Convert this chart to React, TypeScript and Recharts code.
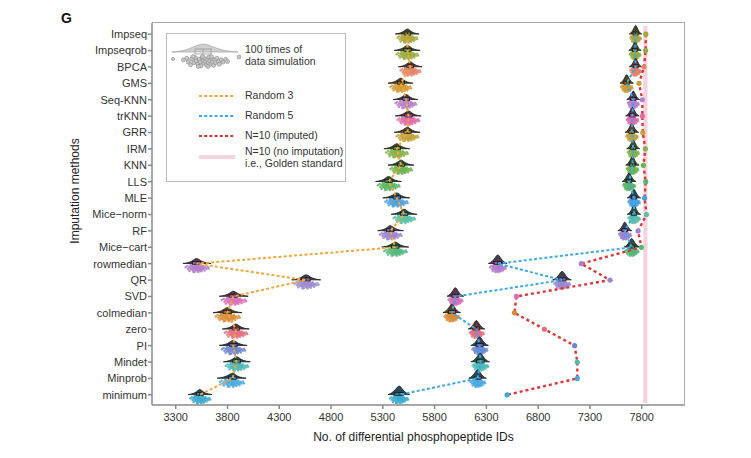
import React from 'react';
import { ComposedChart, Bar, Line, XAxis, YAxis, ReferenceArea, Legend, Label } from 'recharts';

const FONT = '"Liberation Sans", Arial, sans-serif';

// imputation methods, top to bottom
const methods = [
  'Impseq', 'Impseqrob', 'BPCA', 'GMS', 'Seq-KNN', 'trKNN', 'GRR', 'IRM', 'KNN', 'LLS', 'MLE',
  'Mice\u2212norm', 'RF', 'Mice\u2212cart', 'rowmedian', 'QR', 'SVD', 'colmedian', 'zero', 'PI',
  'Mindet', 'Minprob', 'minimum',
];

// Random 3: mean and spread of the 100 simulations
const random3Mean = [5538, 5538, 5565, 5474, 5526, 5548, 5538, 5435, 5477, 5355, 5435, 5506, 5371, 5419, 3500, 4558, 3855, 3797, 3881, 3855, 3887, 3849, 3532];
const random3Low = [5420, 5410, 5450, 5350, 5400, 5420, 5410, 5310, 5350, 5230, 5300, 5380, 5250, 5290, 3370, 4420, 3720, 3660, 3750, 3720, 3760, 3700, 3420];
const random3High = [5650, 5660, 5680, 5590, 5640, 5670, 5660, 5560, 5600, 5480, 5560, 5630, 5500, 5550, 3640, 4700, 4000, 3940, 4010, 3990, 4020, 3980, 3650];

// Random 5
const random5Mean = [7742, 7736, 7742, 7655, 7719, 7710, 7703, 7719, 7710, 7677, 7726, 7726, 7636, 7703, 6410, 7032, 6000, 5968, 6203, 6235, 6242, 6216, 5458];
const random5Low = [7680, 7675, 7680, 7590, 7655, 7645, 7640, 7655, 7645, 7610, 7660, 7660, 7570, 7630, 6320, 6940, 5920, 5880, 6125, 6150, 6150, 6130, 5350];
const random5High = [7800, 7795, 7800, 7720, 7780, 7775, 7770, 7780, 7775, 7745, 7790, 7790, 7705, 7780, 6500, 7120, 6080, 6050, 6285, 6320, 6330, 6300, 5560];

// N=10 imputed (single value per method)
const n10Imputed = [7840, 7838, 7822, 7774, 7806, 7806, 7810, 7835, 7816, 7839, 7828, 7846, 7765, 7797, 7216, 7494, 6590, 6571, 6861, 7152, 7178, 7178, 6500];

// N=10 without imputation
const goldenLow = 7815;
const goldenHigh = 7855;

const xTicks = [3300, 3800, 4300, 4800, 5300, 5800, 6300, 6800, 7300, 7800];
const xDomain = [3071, 8218];

const methodColors: Record<string, string> = {
  Impseq: '#aaa63d',
  Impseqrob: '#96ab40',
  BPCA: '#e6846a',
  GMS: '#d29a31',
  'Seq-KNN': '#b880cb',
  trKNN: '#e36aab',
  GRR: '#c3a13b',
  IRM: '#86b24a',
  KNN: '#6cb44d',
  LLS: '#5bb566',
  MLE: '#4b9fe0',
  'Mice\u2212norm': '#5cc0a8',
  RF: '#9b85d0',
  'Mice\u2212cart': '#52b87c',
  rowmedian: '#b17ccc',
  QR: '#9a88cf',
  SVD: '#d86fb8',
  colmedian: '#d98b36',
  zero: '#e36d80',
  PI: '#6c86d4',
  Mindet: '#4cbab5',
  Minprob: '#4aa9e2',
  minimum: '#3caad0',
};

const ORANGE = '#f2a63a';
const BLUE = '#3da7ee';
const RED = '#df3434';
const PINK = '#f6d2de';

const rows = methods.map((method, i) => ({
  method,
  r3: random3Mean[i],
  r3Range: [random3Low[i], random3High[i]],
  r5: random5Mean[i],
  r5Range: [random5Low[i], random5High[i]],
  n10: n10Imputed[i],
}));

// jitter pattern used to texture each cloud (fractions of the cloud box)
const cloudPattern: [number, number][] = [
  [0.05, 0.35], [0.12, 0.2], [0.15, 0.55], [0.2, 0.8], [0.22, 0.3], [0.27, 0.6], [0.3, 0.15],
  [0.32, 0.45], [0.35, 0.75], [0.38, 0.3], [0.4, 0.55], [0.42, 0.9], [0.44, 0.15], [0.46, 0.4],
  [0.48, 0.65], [0.5, 0.25], [0.51, 0.5], [0.53, 0.8], [0.55, 0.35], [0.57, 0.6], [0.58, 0.1],
  [0.6, 0.45], [0.62, 0.75], [0.64, 0.25], [0.66, 0.55], [0.68, 0.85], [0.7, 0.35], [0.72, 0.6],
  [0.75, 0.2], [0.78, 0.5], [0.8, 0.75], [0.84, 0.35], [0.88, 0.55], [0.93, 0.3], [0.36, 0.95],
  [0.56, 0.95], [0.45, 0.05], [0.25, 0.05], [0.63, 0.05], [0.97, 0.5],
];

const violinPath = (x: number, w: number, mx: number, cy: number, peak: number, sharp: number) =>
  `M${x},${cy} C${x + sharp * w},${cy - 0.2 * peak} ${mx - 0.1 * w},${cy - peak} ${mx},${cy - peak} ` +
  `C${mx + 0.1 * w},${cy - peak} ${x + w - sharp * w},${cy - 0.2 * peak} ${x + w},${cy} Z`;

const makeCloud = (meanKey: 'r3' | 'r5', rangeKey: 'r3Range' | 'r5Range', peak: number, sharp: number, boxFrac: number) =>
  (props: any) => {
    const { x, y, width, height, payload } = props;
    if (!payload || !(width > 0)) return <g />;
    const [lo, hi] = payload[rangeKey];
    const mx = x + (width * (payload[meanKey] - lo)) / (hi - lo);
    const cy = y + height / 2;
    const c = methodColors[payload.method];
    const bw = width * boxFrac;
    const d = violinPath(x, width, mx, cy, peak, sharp);
    return (
      <g>
        <ellipse cx={mx} cy={cy + 4.3} rx={width * 0.32} ry={3.5} fill={c} fillOpacity={0.6} />
        {cloudPattern.map(([fx, fy], k) => (
          <circle key={k} cx={x + width * (0.05 + fx * 0.9)} cy={cy + 1 + fy * 8} r={1.25} fill={c} fillOpacity={0.85} />
        ))}
        <path d={d} fill={c} />
        <path d={d} fill="#222" fillOpacity={0.72} stroke="#1e1e1e" strokeWidth={0.8} />
        <rect x={mx - bw / 2} y={cy - 2} width={bw} height={3} fill={c} fillOpacity={0.6} stroke="#111" strokeWidth={0.7} />
        <line x1={mx} x2={mx} y1={cy - 2} y2={cy + 1} stroke="#111" strokeWidth={0.7} />
      </g>
    );
  };

const Random3Cloud = makeCloud('r3', 'r3Range', 5, 0.38, 0.28);
const Random5Cloud = makeCloud('r5', 'r5Range', 8.5, 0.3, 0.4);

const ImputedDot = (props: any) => {
  const { cx, cy, payload, index } = props;
  if (cx == null || cy == null) return <g key={index} />;
  return <circle key={index} cx={cx} cy={cy} r={2.6} fill={methodColors[payload.method]} />;
};

const YTitle = () => (
  <text x={79} y={191} transform="rotate(-90, 79, 191)" textAnchor="middle" fontSize={12} fill="#222" fontFamily={FONT}>
    Imputation methods
  </text>
);

const XTitle = (props: any) => {
  const vb = props.viewBox || {};
  return (
    <text x={vb.x + vb.width / 2 - 5} y={vb.y + 36} textAnchor="middle" fontSize={12} fill="#222" fontFamily={FONT}>
      No. of differential phosphopeptide IDs
    </text>
  );
};

const legendLines = [
  { label: 'Random 3', color: ORANGE, top: 62 },
  { label: 'Random 5', color: BLUE, top: 82 },
  { label: 'N=10 (imputed)', color: RED, top: 102 },
];

const LegendBox = () => (
  <div
    style={{
      width: 178,
      height: 147,
      border: '1px solid #bbb',
      background: '#fff',
      position: 'relative',
      fontFamily: FONT,
      fontSize: 10.5,
      color: '#333',
    }}
  >
    <svg width={76} height={34} style={{ position: 'absolute', left: 2, top: 6 }}>
      <path d="M3,12 C22,11 24,5 34,4 C44,5 48,11 69,12 Z" fill="#cfcfcf" stroke="#aaa" strokeWidth={0.8} />
      <rect x={26} y={9} width={16} height={5} fill="none" stroke="#999" strokeWidth={0.8} />
      <line x1={34} x2={34} y1={9} y2={14} stroke="#999" strokeWidth={0.8} />
      {cloudPattern.map(([fx, fy], k) => (
        <circle key={k} cx={12 + fx * 48} cy={16 + fy * 11} r={2} fill="#c8c8c8" stroke="#888" strokeWidth={0.6} />
      ))}
      <circle cx={4} cy={19} r={1.6} fill="#c8c8c8" stroke="#888" strokeWidth={0.6} />
      <circle cx={70} cy={17} r={2} fill="#c8c8c8" stroke="#888" strokeWidth={0.6} />
    </svg>
    <div style={{ position: 'absolute', left: 78, top: 9, lineHeight: '12px' }}>
      100 times of
      <br />
      data simulation
    </div>
    {legendLines.map((l) => (
      <React.Fragment key={l.label}>
        <svg width={36} height={6} style={{ position: 'absolute', left: 32, top: l.top - 3 }}>
          <line x1={0} x2={36} y1={3} y2={3} stroke={l.color} strokeWidth={2} strokeDasharray="3 2.2" />
        </svg>
        <div style={{ position: 'absolute', left: 78, top: l.top - 7, lineHeight: '12px' }}>{l.label}</div>
      </React.Fragment>
    ))}
    <div style={{ position: 'absolute', left: 32, top: 121, width: 36, height: 4, background: PINK }} />
    <div style={{ position: 'absolute', left: 78, top: 112, lineHeight: '11.5px' }}>
      N=10 (no imputation)
      <br />
      i.e., Golden standard
    </div>
  </div>
);

export default function App() {
  const tickStyle = { fontSize: 11, fill: '#333', fontFamily: FONT };
  return (
    <div style={{ position: 'absolute', left: 0, top: 0, width: 751, height: 458, background: '#fff', fontFamily: FONT }}>
      <div style={{ position: 'absolute', left: 61, top: 10, fontSize: 14, fontWeight: 'bold', color: '#111' }}>G</div>
      <ComposedChart
        width={751}
        height={458}
        data={rows}
        layout="vertical"
        margin={{ top: 23, right: 66, bottom: 23, left: 0 }}
      >
        <XAxis
          type="number"
          domain={xDomain}
          ticks={xTicks}
          allowDataOverflow
          height={30}
          tick={tickStyle}
          tickSize={4}
          tickMargin={4}
          stroke="#8a8a8a"
          strokeWidth={1.5}
        >
          <Label content={<XTitle />} />
        </XAxis>
        <YAxis
          yAxisId="main"
          type="category"
          dataKey="method"
          width={152}
          padding={{ top: 3, bottom: 2 }}
          tick={tickStyle}
          tickSize={4}
          tickMargin={1}
          interval={0}
          stroke="#8a8a8a"
          strokeWidth={1.5}
        >
          <Label content={<YTitle />} />
        </YAxis>
        <YAxis yAxisId="r5" type="category" dataKey="method" hide padding={{ top: 3, bottom: 2 }} />
        <ReferenceArea yAxisId="main" x1={goldenLow} x2={goldenHigh} fill={PINK} fillOpacity={1} stroke="none" ifOverflow="extendDomain" />
        <Bar yAxisId="main" dataKey="r3Range" barSize={16} shape={Random3Cloud} isAnimationActive={false} />
        <Bar yAxisId="r5" dataKey="r5Range" barSize={16} shape={Random5Cloud} isAnimationActive={false} />
        <Line yAxisId="main" dataKey="r3" stroke={ORANGE} strokeWidth={2} strokeDasharray="3 2.2" dot={false} isAnimationActive={false} />
        <Line yAxisId="main" dataKey="r5" stroke={BLUE} strokeWidth={2} strokeDasharray="3 2.2" dot={false} isAnimationActive={false} />
        <Line yAxisId="main" dataKey="n10" stroke={RED} strokeWidth={2.4} strokeDasharray="3 3" dot={ImputedDot} isAnimationActive={false} />
        <Legend
          layout="vertical"
          align="center"
          verticalAlign="middle"
          content={() => <LegendBox />}
          wrapperStyle={{ position: 'absolute', left: 166, top: 33, width: 180, height: 149 }}
        />
      </ComposedChart>
      <div
        style={{
          position: 'absolute',
          left: 152,
          top: 22,
          width: 533,
          height: 383,
          borderTop: '1.5px solid #a8a8a8',
          borderRight: '1.5px solid #a8a8a8',
          boxSizing: 'border-box',
          pointerEvents: 'none',
        }}
      />
    </div>
  );
}
